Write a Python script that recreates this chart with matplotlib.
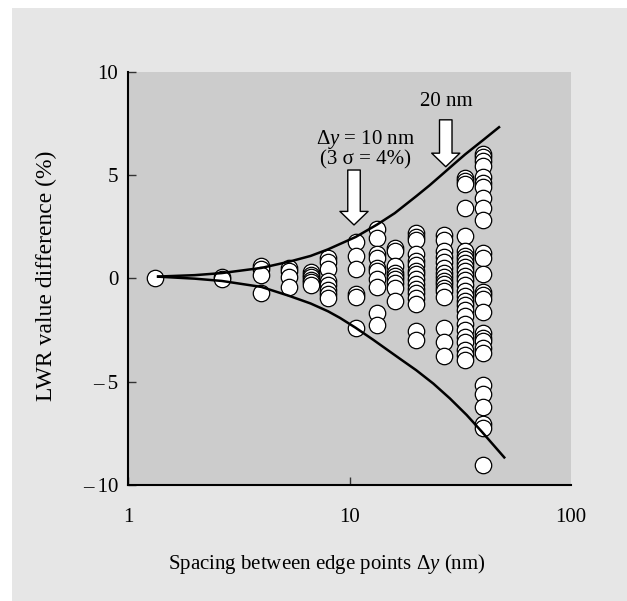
import matplotlib
matplotlib.use('Agg')
import matplotlib.pyplot as plt
from matplotlib.patches import Rectangle

# serif look like the original figure
plt.rcParams['font.family'] = 'Liberation Serif'
plt.rcParams['font.size'] = 15
plt.rcParams['mathtext.fontset'] = 'custom'
plt.rcParams['mathtext.rm'] = 'Liberation Serif'
plt.rcParams['mathtext.it'] = 'Liberation Serif:italic'

# spacing between edge points (nm), one value per column of points
spacing = [1.33, 2.67, 4.0, 5.33, 6.67, 8.0, 10.67, 13.33, 16.0, 20.0, 26.67, 33.3, 40.0]

# LWR value difference (%) for each column
col01 = [0.0]
col02 = [0.05, -0.05]
col03 = [0.6, 0.45, 0.15, -0.7]
col04 = [0.5, 0.35, 0.05, -0.4]
col05 = [0.3, 0.15, 0.05, -0.1, -0.2, -0.35]
col06 = [1.0, 0.8, 0.45, -0.15, -0.35, -0.55, -0.75, -0.95]
col07 = [1.75, 1.1, 0.45, -0.75, -0.9, -2.4]
col08 = [2.38, 1.97, 1.16, 1.0, 0.51, 0.35, -0.05, -0.43, -1.68, -2.24]
col09 = [1.48, 1.32, 0.59, 0.27, 0.11, -0.05, -0.22, -0.46, -1.11]
col10 = [2.2, 2.0, 1.85, 1.15, 0.85, 0.65, 0.35, 0.2, -0.05, -0.3, -0.5, -0.7,
         -0.95, -1.25, -2.55, -3.0]
col11 = [2.1, 1.85, 1.3, 1.05, 0.8, 0.5, 0.25, 0.05, -0.15, -0.3, -0.45, -0.6,
         -0.9, -2.4, -3.1, -3.75]
col12 = [4.85, 4.7, 4.55, 3.4, 2.05, 1.3, 1.1, 0.95, 0.75, 0.55, 0.35, 0.1, -0.1,
         -0.35, -0.6, -0.85, -1.1, -1.3, -1.55, -1.85, -2.2, -2.5, -2.85, -3.1,
         -3.45, -3.7, -3.95]
col13 = [6.0, 5.85, 5.7, 5.45, 4.9, 4.6, 4.4, 3.9, 3.4, 2.8, 1.2, 1.0, 0.2, -0.65,
         -0.8, -1.0, -1.65, -2.65, -2.9, -3.05, -3.4, -3.6, -5.15, -5.6, -6.25,
         -7.05, -7.25, -9.05]
columns = [col01, col02, col03, col04, col05, col06, col07, col08, col09, col10,
           col11, col12, col13]

# envelope curves
upper_x = [1.35, 2.0, 2.65, 4.0, 5.33, 6.67, 8.0, 10.67, 13.33, 16.0, 20.0, 23.0,
           26.67, 30.0, 33.3, 40.0, 47.8]
upper_y = [0.08, 0.15, 0.25, 0.5, 0.8, 1.08, 1.4, 2.0, 2.6, 3.15, 3.97, 4.5,
           5.1, 5.58, 6.0, 6.68, 7.35]
lower_x = [1.35, 2.0, 2.65, 4.0, 5.33, 6.67, 8.0, 9.06, 10.67, 12.8, 16.9, 20.0,
           23.9, 28.4, 33.8, 39.5, 50.4]
lower_y = [0.08, -0.02, -0.13, -0.42, -0.85, -1.22, -1.6, -1.92, -2.4, -2.98, -3.9,
           -4.45, -5.1, -5.82, -6.62, -7.42, -8.72]

fig = plt.figure(figsize=(6.27, 6.01), dpi=100, facecolor='white')
fig.patches.append(Rectangle((12 / 627, 0), 1 - 12 / 627, 1 - 8 / 601,
                             transform=fig.transFigure, facecolor='#e6e6e6',
                             edgecolor='none', zorder=-10))

ax = fig.add_axes([128 / 627, 1 - 484.8 / 601, 443 / 627, 413.1 / 601])
ax.set_zorder(1)
ax.set_facecolor('#cccccc')

for xv, ys in zip(spacing, columns):
    ax.scatter([xv] * len(ys), ys, s=140, facecolor='white', edgecolor='black',
               linewidth=0.9, zorder=2)

ax.plot(upper_x, upper_y, color='black', lw=1.8, zorder=3, solid_capstyle='butt')
ax.plot(lower_x, lower_y, color='black', lw=1.8, zorder=3, solid_capstyle='butt')

# block arrows
arrow_style = 'simple,head_length=0.65,head_width=1.35,tail_width=0.6'
for ax_x, tip, top in [(10.48, 2.58, 5.24), (27.2, 5.40, 7.67)]:
    ax.annotate('', xy=(ax_x, tip), xytext=(ax_x, top),
                arrowprops=dict(arrowstyle=arrow_style, fc='white', ec='black',
                                lw=1.0, shrinkA=0, shrinkB=0),
                zorder=4)

ax.text(11.87, 6.5, r'$\Delta y$ = 10 nm', ha='center', va='baseline', fontsize=15)
ax.text(11.87, 5.49, '(3 σ = 4%)', ha='center', va='baseline', fontsize=15)
ax.text(27.3, 8.34, '20 nm', ha='center', va='baseline', fontsize=15)

ax.set_xscale('log')
ax.set_xlim(1, 100)
ax.set_ylim(-10, 10)
ax.set_xticks([1, 10, 100])
ax.set_xticklabels(['1', '10', '100'])
ax.minorticks_off()
ax.set_yticks([-10, -5, 0, 5, 10])
ax.set_yticklabels(['\u2013\u200910', '\u2013\u20095', '0', '5', '10'])
ax.xaxis.get_major_ticks()[2].tick1line.set_visible(False)

ax.tick_params(axis='both', direction='in', length=6, width=1.0, color='#333333',
               labelsize=15)
ax.tick_params(axis='x', pad=17)
ax.tick_params(axis='y', pad=7)

for side in ['top', 'right']:
    ax.spines[side].set_visible(False)
for side in ['left', 'bottom']:
    ax.spines[side].set_linewidth(1.5)
    ax.spines[side].set_color('black')

fig.text(46 / 627, 1 - 276 / 601, 'LWR value difference (%)', rotation=90,
         ha='center', va='center', fontsize=17)
fig.text(327 / 627, 1 - 564 / 601, r'Spacing between edge points $\Delta y$ (nm)',
         ha='center', va='center', fontsize=15)

fig.savefig('out.png', dpi=100, facecolor=fig.get_facecolor())
